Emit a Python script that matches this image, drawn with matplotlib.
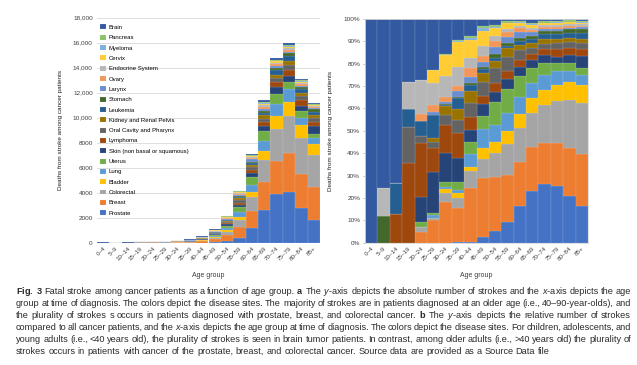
import numpy as np
import matplotlib.pyplot as plt

plt.rcParams["font.family"] = ["Liberation Sans", "DejaVu Sans"]
plt.rcParams["mathtext.fontset"] = "custom"
plt.rcParams["mathtext.rm"] = "Liberation Sans"
plt.rcParams["mathtext.it"] = "Liberation Sans:italic"
plt.rcParams["mathtext.bf"] = "Liberation Sans:bold"

# Age groups and total strokes per group (panel a)
ages = ["0–4", "5–9", "10–14", "15–19", "20–24", "25–29", "30–34", "35–39", "40–44",
        "45–49", "50–54", "55–59", "60–64", "65–69", "70–74", "75–79", "80–84", "85+"]
totals = [20, 15, 25, 40, 60, 90, 160, 270, 530, 1070, 2160, 4160, 7070, 11410,
          14800, 16000, 13070, 11200]

# Share of each disease site per age group, % (panel b), stacked bottom -> top
prostate = [0, 0, 0, 0, 0, 0, 0, 0.3, 0.5, 2.7, 5.3, 9.4, 16.5, 23.2, 26.1, 25.3, 21.0, 16.5]
breast = [0, 0, 0, 0, 4.6, 10.1, 18.3, 15.3, 23.8, 26.1, 23.9, 20.9, 19.7, 19.7, 18.3, 19.4, 21.2, 23.1]
colorectal = [0, 0, 0, 0, 2.3, 1.1, 3.7, 4.5, 7.7, 8.6, 10.8, 13.7, 15.2, 14.9, 17.1, 18.6, 21.6, 22.7]
bladder = [0, 0, 0, 0, 0, 0, 1.8, 1.9, 2.0, 5.1, 5.2, 5.9, 6.0, 6.7, 6.8, 7.2, 8.2, 8.2]
lung = [0, 0, 0, 0, 0, 1.0, 1.2, 1.5, 5.5, 8.5, 7.4, 8.2, 7.9, 6.7, 6.7, 6.3, 4.6, 4.5]
uterus = [0, 0, 0, 0, 2.5, 1.2, 2.3, 3.8, 5.7, 5.5, 10.1, 10.6, 9.4, 7.0, 5.2, 3.4, 3.8, 2.9]
skin = [0, 0, 0, 0, 11.2, 18.3, 12.6, 10.7, 5.2, 5.5, 4.8, 4.6, 4.0, 3.5, 3.7, 3.0, 3.5, 5.6]
lymphoma = [0, 0, 13.0, 35.7, 24.1, 10.5, 12.7, 10.9, 5.9, 3.5, 4.0, 3.6, 3.0, 2.8, 2.9, 3.4, 3.2, 2.9]
oral = [0, 0, 0, 15.9, 3.1, 3.0, 4.5, 5.9, 6.0, 6.5, 6.5, 6.0, 4.4, 2.5, 2.2, 2.5, 2.5, 2.7]
kidney = [0, 0, 0, 0, 0, 1.4, 4.2, 4.8, 5.5, 3.7, 3.4, 4.0, 2.3, 2.2, 1.9, 1.8, 1.8, 1.8]
leukemia = [0, 0, 13.5, 8.0, 6.6, 10.5, 0.3, 4.9, 2.7, 1.8, 1.1, 1.2, 1.9, 2.0, 2.3, 2.4, 2.5, 2.7]
stomach = [0, 12.0, 0, 0, 0, 0, 0.2, 0.6, 0.7, 1.0, 2.0, 1.0, 1.1, 1.0, 1.4, 1.5, 1.5, 1.9]
larynx = [0, 0, 0, 0, 0, 1.5, 0.9, 2.7, 3.0, 2.5, 3.0, 3.0, 2.9, 1.8, 0.8, 0.7, 0.7, 0.8]
ovary = [0, 0, 0, 0, 3.0, 2.9, 2.6, 2.4, 3.7, 2.5, 2.8, 2.1, 1.5, 1.2, 1.0, 1.1, 0.9, 0.7]
endocrine = [0, 12.5, 0, 12.2, 15.2, 9.7, 9.2, 8.5, 4.8, 4.5, 2.1, 1.5, 1.1, 1.0, 0.9, 0.9, 0.8, 0.8]
cervix = [0, 0, 0, 0, 0, 6.0, 9.4, 11.2, 7.9, 6.8, 3.4, 2.3, 1.2, 1.0, 0.7, 0.6, 0.7, 0.6]
myeloma = [0, 0, 0, 0, 0, 0, 0, 0.3, 0.8, 1.2, 0.8, 0.4, 0.4, 0.5, 0.4, 0.4, 0.3, 0.3]
pancreas = [0, 0, 0, 0, 0, 0, 0.3, 0.4, 1.1, 1.0, 0.9, 0.7, 0.6, 0.6, 0.6, 0.6, 0.6, 0.4]
brain = [100, 75.5, 73.5, 28.2, 27.4, 22.8, 15.8, 9.4, 7.5, 3.0, 2.5, 0.9, 0.9, 1.7, 1.0, 0.9, 0.6, 0.9]

sites = ["Prostate", "Breast", "Colorectal", "Bladder", "Lung", "Uterus",
         "Skin (non basal or squamous)", "Lymphoma", "Oral Cavity and Pharynx",
         "Kidney and Renal Pelvis", "Leukemia", "Stomach", "Larynx", "Ovary",
         "Endocrine System", "Cervix", "Myeloma", "Pancreas", "Brain"]
colors = ["#4472C4", "#ED7D31", "#A5A5A5", "#FFC000", "#5B9BD5", "#70AD47",
          "#264478", "#9E480E", "#636363", "#997300", "#255E91", "#43682B",
          "#698ED0", "#F1975A", "#B7B7B7", "#FFCD33", "#7CAFDD", "#8CC168", "#335AA1"]

y_ticks_a = [0, 2000, 4000, 6000, 8000, 10000, 12000, 14000, 16000, 18000]
y_labels_a = ["0", "2000", "4000", "6000", "8000", "10,000", "12,000", "14,000", "16,000", "18,000"]
y_ticks_b = list(range(0, 101, 10))
y_labels_b = [f"{v}%" for v in y_ticks_b]

caption = [
    r"$\mathbf{Fig.}$ $\mathbf{3}$ Fatal stroke among cancer patients as a function of age group. $\mathbf{a}$ The $\mathit{y}$-axis depicts the absolute number of strokes and the $\mathit{x}$-axis depicts the age",
    "group at time of diagnosis. The colors depict the disease sites. The majority of strokes are in patients diagnosed at an older age (i.e., 40–90-year-olds), and",
    r"the plurality of strokes s occurs in patients diagnosed with prostate, breast, and colorectal cancer. $\mathbf{b}$ The $\mathit{y}$-axis depicts the relative number of strokes",
    r"compared to all cancer patients, and the $\mathit{x}$-axis depicts the age group at time of diagnosis. The colors depict the disease sites. For children, adolescents, and",
    "young adults (i.e., <40 years old), the plurality of strokes is seen in brain tumor patients. In contrast, among older adults (i.e., >40 years old) the plurality of",
    "strokes occurs in patients with cancer of the prostate, breast, and colorectal cancer. Source data are provided as a Source Data file",
]

pct = np.array([prostate, breast, colorectal, bladder, lung, uterus, skin, lymphoma, oral,
                kidney, leukemia, stomach, larynx, ovary, endocrine, cervix, myeloma,
                pancreas, brain], dtype=float)
pct = pct / pct.sum(axis=0) * 100
counts = pct / 100 * np.array(totals)

W, H = 637, 365
fig = plt.figure(figsize=(W / 100, H / 100), dpi=100)
axL = fig.add_axes([97 / W, (H - 242.7) / H, 223 / W, 225 / H])
axR = fig.add_axes([365 / W, (H - 242.7) / H, 223 / W, 223.7 / H])

x = np.arange(len(ages))
txt_col = "#404040"

for ax, data in ((axL, counts), (axR, pct)):
    bottom = np.zeros(len(ages))
    for name, col, vals in zip(sites, colors, data):
        ax.bar(x, vals, width=1.0, bottom=bottom, color=col, label=name,
               edgecolor="#e8e8e8", linewidth=0.1)
        bottom += vals
    ax.set_xlim(-0.5, len(ages) - 0.5)
    ax.set_xticks(x)
    ax.set_xticklabels(ages, rotation=45, ha="right", rotation_mode="anchor",
                       fontsize=4.5, color=txt_col)
    ax.tick_params(axis="x", length=0, pad=2)
    ax.set_xlabel("Age group", fontsize=5, color=txt_col, labelpad=2)
    ax.xaxis.set_label_coords(0.5, -0.13)
    ax.set_ylabel("Deaths from stroke among cancer patients", fontsize=4.6, color="#202020")

# panel a
axL.set_ylim(0, 18000)
axL.set_yticks(y_ticks_a)
axL.set_yticklabels(y_labels_a, fontsize=4.6, color=txt_col)
axL.tick_params(axis="y", length=0, pad=3)
axL.grid(axis="y", color="#d9d9d9", linewidth=0.6)
axL.set_axisbelow(True)
for s in axL.spines.values():
    s.set_visible(False)
axL.yaxis.set_label_coords(-0.152, 0.5)

h, l = axL.get_legend_handles_labels()
axL.legend(h[::-1], l[::-1], loc="upper left", bbox_to_anchor=(0.015, 0.97),
           frameon=False, fontsize=4.3, handlelength=0.9, handleheight=0.9,
           handletextpad=0.5, labelspacing=0.8, borderaxespad=0, borderpad=0)

# panel b
axR.set_ylim(0, 100)
axR.set_yticks(y_ticks_b)
axR.set_yticklabels(y_labels_b, fontsize=4.6, color=txt_col)
axR.tick_params(axis="y", length=1.5, width=0.5, color="#a0a0a0", pad=2)
for s in axR.spines.values():
    s.set_color("#d9d9d9")
    s.set_linewidth(0.6)
axR.yaxis.set_label_coords(-0.143, 0.5)

# caption, justified word by word
renderer = fig.canvas.get_renderer()
x0, x1 = 16, 631
ys = [294, 306, 318, 330, 342, 354]


def width_of(s, size):
    t = fig.text(0, 0, s, fontsize=size)
    w = t.get_window_extent(renderer).width
    t.remove()
    return w


# pick a size so the last (unjustified) line ends near x = 553
cap_size = 6.1 * (553 - x0) / width_of(caption[-1], 6.1)
space_w = width_of("a b", cap_size) - width_of("ab", cap_size)
for i, (line, yy) in enumerate(zip(caption, ys)):
    words = line.split(" ")
    widths = [width_of(w, cap_size) for w in words]
    if i < len(caption) - 1:
        gap = max((x1 - x0 - sum(widths)) / (len(words) - 1), 0.6 * space_w)
    else:
        gap = space_w
    px = x0
    for w, ww in zip(words, widths):
        fig.text(px / W, 1 - yy / H, w, fontsize=cap_size, color="#2a2a2a",
                 ha="left", va="baseline")
        px += ww + gap

fig.savefig("out.png", dpi=100)
